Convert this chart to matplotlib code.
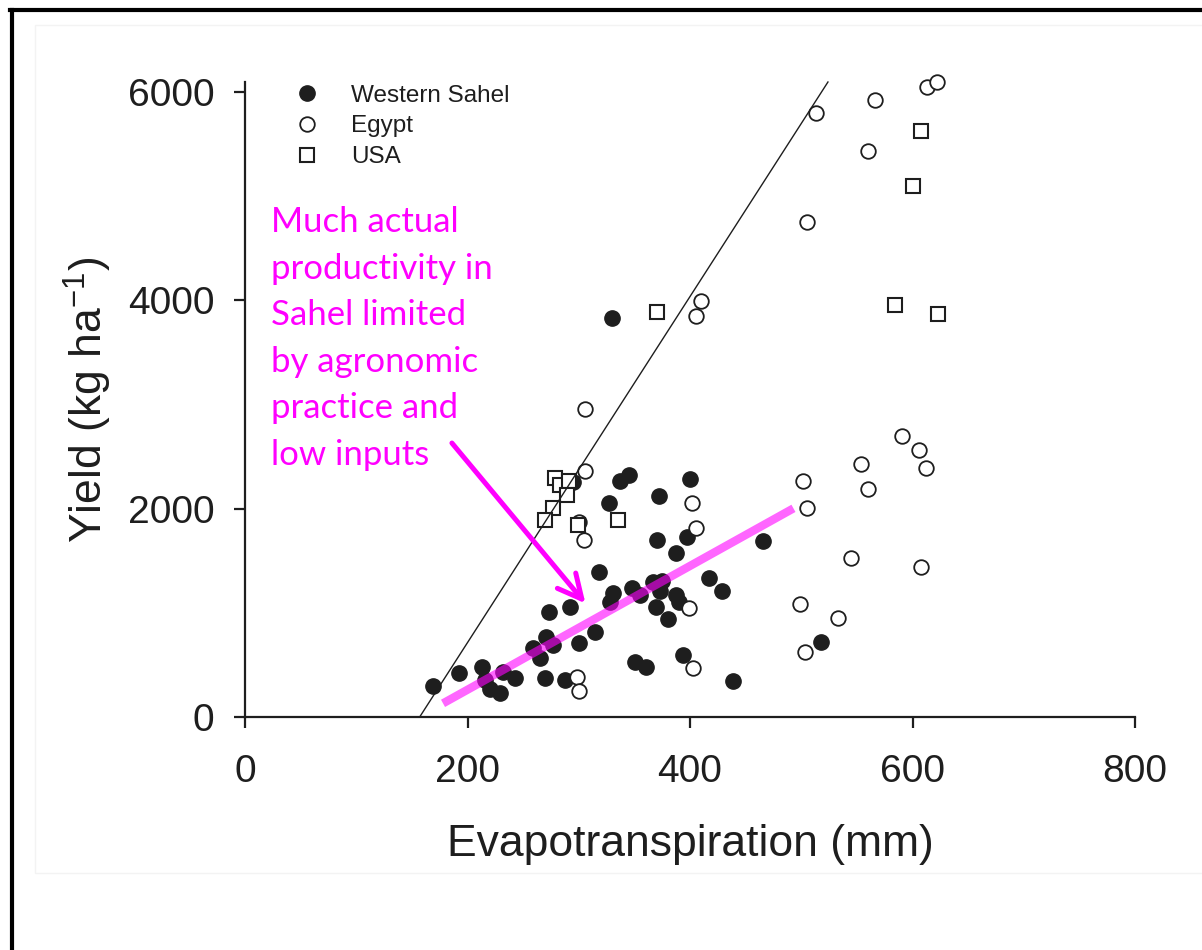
import numpy as np
import matplotlib.pyplot as plt
from matplotlib.lines import Line2D
from matplotlib.patches import Rectangle

plt.rcParams['font.family'] = ['Liberation Sans', 'DejaVu Sans']
plt.rcParams['mathtext.default'] = 'regular'

# data: evapotranspiration (mm) vs yield (kg/ha)
sahel_et = [169, 192, 213, 216, 220, 229, 232, 243, 259, 265, 271, 277, 270, 288, 300,
            273, 292, 315, 318, 328, 331, 348, 355, 367, 375, 373, 369, 387, 390, 380,
            417, 429, 370, 397, 387, 466, 327, 372, 400, 337, 345, 295, 330, 351, 360,
            394, 439, 518]
sahel_yield = [300, 419, 480, 355, 265, 227, 435, 371, 659, 563, 771, 691, 375, 355, 707,
               1011, 1059, 819, 1395, 1107, 1187, 1235, 1171, 1300, 1310, 1205, 1059, 1171, 1107, 940,
               1331, 1213, 1699, 1731, 1571, 1693, 2057, 2122, 2282, 2266, 2323, 2256, 3830, 531, 483,
               595, 346, 717]

egypt_et = [513, 566, 613, 622, 560, 505, 410, 405, 306, 306, 402, 405, 305, 300, 399,
            298, 300, 403, 502, 505, 554, 560, 591, 606, 612, 545, 608, 499, 533, 503]
egypt_yield = [5801, 5923, 6045, 6096, 5437, 4755, 3996, 3850, 2954, 2362, 2051, 1817, 1699, 1875, 1049,
               387, 250, 467, 2269, 2009, 2426, 2186, 2698, 2563, 2387, 1523, 1443, 1085, 947, 627]

usa_et = [279, 283, 291, 289, 277, 270, 299, 335, 370, 608, 600, 584, 623]
usa_yield = [2290, 2227, 2270, 2131, 2003, 1891, 1843, 1891, 3888, 5626, 5098, 3955, 3869]

# boundary line and Sahel trend line
bound_et = [157, 524]
bound_yield = [0, 6096]
trend_et = [178, 493]
trend_yield = [131, 2003]

# arrow (tail, head)
arrow_tail = (186, 2630)
arrow_head = (306, 1091)

note = "Much actual\nproductivity in\nSahel limited\nby agronomic\npractice and\nlow inputs"

ink = '#1e1e1e'
magenta = '#ff00ff'

fig = plt.figure(figsize=(12.02, 9.5), dpi=100)
fig.patch.set_facecolor('white')

# faint panel outline and the black frame on top/left
fig.add_artist(Rectangle((35 / 1202, 1 - 873 / 950), 1, 848 / 950, transform=fig.transFigure,
                         facecolor='white', edgecolor='#f3f3f3', lw=1, zorder=-5))
fig.add_artist(Line2D([10 / 1202, 1], [1 - 10 / 950] * 2, transform=fig.transFigure, color='black', lw=3))
fig.add_artist(Line2D([12 / 1202] * 2, [0, 1 - 10 / 950], transform=fig.transFigure, color='black', lw=3))

ax = fig.add_axes([245 / 1202, 1 - 717 / 950, 890 / 1202, 635 / 950])
ax.patch.set_visible(False)

ax.plot(sahel_et, sahel_yield, 'o', ls='none', ms=11, color=ink, mec=ink, label='Western Sahel',
        zorder=3, clip_on=False)
ax.plot(egypt_et, egypt_yield, 'o', ls='none', ms=10.5, mfc='white', mec=ink, mew=1.3, label='Egypt',
        zorder=3, clip_on=False)
ax.plot(usa_et, usa_yield, 's', ls='none', ms=10.5, mfc='white', mec=ink, mew=1.5, label='USA',
        zorder=4, clip_on=False)

ax.plot(bound_et, bound_yield, color=ink, lw=1.0, zorder=5, clip_on=False)
ax.plot(trend_et, trend_yield, color=magenta, lw=6, alpha=0.6, solid_capstyle='butt', zorder=6)

ax.annotate('', xy=arrow_head, xytext=arrow_tail,
            arrowprops=dict(arrowstyle='->,head_length=0.86,head_width=0.43', color=magenta,
                            lw=3.6, mutation_scale=20, shrinkA=0, shrinkB=0), zorder=7)

ax.text(23.5, 4905, note, color=magenta, fontsize=25, family='Lato', va='top', ha='left',
        linespacing=1.56, zorder=7)

ax.set_xlim(0, 800)
ax.set_ylim(0, 6096)
ax.set_xticks([0, 200, 400, 600, 800])
ax.set_yticks([0, 2000, 4000, 6000])
for side in ['top', 'right']:
    ax.spines[side].set_visible(False)
for side in ['left', 'bottom']:
    ax.spines[side].set_linewidth(1.6)
    ax.spines[side].set_color(ink)
ax.tick_params(axis='both', direction='out', length=8, width=1.6, color=ink, labelcolor=ink, labelsize=28)
ax.tick_params(axis='x', pad=19)
ax.tick_params(axis='y', pad=14)

ax.set_xlabel('Evapotranspiration (mm)', fontsize=32, color=ink, labelpad=24)
ax.set_ylabel('Yield (kg ha$^{-1}$)', fontsize=32, color=ink, labelpad=10)

leg = ax.legend(loc='upper left', bbox_to_anchor=(0.056, 0.996), frameon=False, fontsize=17.5,
                handlelength=1.0, handletextpad=1.3, labelspacing=0.36, borderpad=0, borderaxespad=0,
                numpoints=1, markerscale=1.0)
for t in leg.get_texts():
    t.set_color(ink)

fig.savefig('out.png', dpi=100)
